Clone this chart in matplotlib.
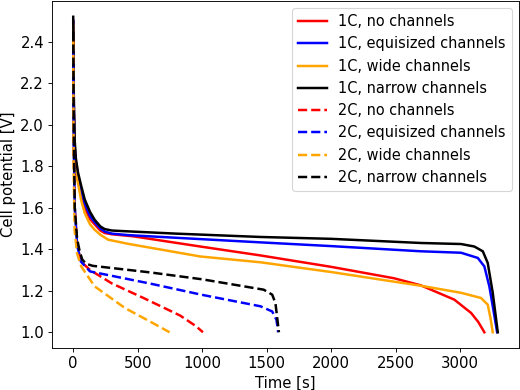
import matplotlib
matplotlib.use("Agg")
import matplotlib.pyplot as plt

# 1C curves
t_1c_none = [0, 5, 11, 20, 37, 60, 89, 130, 166, 210, 244, 300, 467, 985, 1452, 2000, 2488, 2695, 2955, 3085, 3140, 3188]
v_1c_none = [2.50, 2.06, 1.89, 1.80, 1.73, 1.67, 1.60, 1.545, 1.52, 1.49, 1.478, 1.472, 1.462, 1.413, 1.37, 1.315, 1.26, 1.226, 1.157, 1.093, 1.05, 1.0]

t_1c_equi = [0, 5, 11, 20, 37, 60, 89, 130, 166, 210, 244, 300, 425, 800, 1452, 2000, 2696, 3007, 3137, 3188, 3227, 3260, 3287]
v_1c_equi = [2.50, 2.08, 1.90, 1.82, 1.75, 1.69, 1.62, 1.56, 1.53, 1.50, 1.485, 1.475, 1.468, 1.455, 1.433, 1.415, 1.39, 1.383, 1.358, 1.317, 1.22, 1.10, 1.0]

t_1c_wide = [0, 5, 11, 20, 37, 60, 89, 130, 166, 210, 270, 425, 985, 1452, 2000, 2695, 3007, 3162, 3214, 3235, 3253]
v_1c_wide = [2.48, 2.00, 1.84, 1.77, 1.718, 1.64, 1.574, 1.52, 1.494, 1.47, 1.446, 1.426, 1.365, 1.337, 1.29, 1.224, 1.19, 1.165, 1.133, 1.07, 1.0]

t_1c_narrow = [0, 5, 11, 20, 37, 60, 89, 130, 166, 210, 244, 300, 425, 800, 1452, 2000, 2696, 3007, 3110, 3176, 3214, 3253, 3292]
v_1c_narrow = [2.52, 2.10, 1.93, 1.84, 1.77, 1.71, 1.64, 1.58, 1.542, 1.51, 1.497, 1.49, 1.486, 1.475, 1.459, 1.45, 1.43, 1.425, 1.413, 1.39, 1.334, 1.19, 1.0]

# 2C curves
t_2c_none = [0, 4, 12, 30, 60, 130, 300, 545, 830, 950, 1006]
v_2c_none = [2.40, 1.90, 1.60, 1.42, 1.34, 1.30, 1.235, 1.165, 1.08, 1.03, 1.0]

t_2c_equi = [0, 4, 12, 30, 60, 130, 600, 1000, 1452, 1543, 1576, 1589]
v_2c_equi = [2.37, 1.90, 1.60, 1.42, 1.34, 1.293, 1.234, 1.18, 1.125, 1.10, 1.06, 1.0]

t_2c_wide = [0, 3, 11, 30, 62, 166, 400, 600, 747]
v_2c_wide = [2.40, 1.80, 1.49, 1.38, 1.317, 1.221, 1.117, 1.05, 1.0]

t_2c_narrow = [0, 5, 12, 30, 50, 70, 100, 150, 600, 1000, 1477, 1543, 1568, 1595]
v_2c_narrow = [2.45, 1.90, 1.60, 1.45, 1.39, 1.35, 1.33, 1.32, 1.288, 1.255, 1.205, 1.181, 1.14, 1.0]

labels = ["1C, no channels", "1C, equisized channels", "1C, wide channels", "1C, narrow channels",
          "2C, no channels", "2C, equisized channels", "2C, wide channels", "2C, narrow channels"]
colors = ["red", "blue", "orange", "black"]

series = [(t_1c_none, v_1c_none), (t_1c_equi, v_1c_equi), (t_1c_wide, v_1c_wide), (t_1c_narrow, v_1c_narrow),
          (t_2c_none, v_2c_none), (t_2c_equi, v_2c_equi), (t_2c_wide, v_2c_wide), (t_2c_narrow, v_2c_narrow)]

fig = plt.figure(figsize=(6.4, 4.8), dpi=81.25)
ax = fig.add_axes([52/520, 1-348/390, 467/520, 347/390])
for i, ((t, v), lab) in enumerate(zip(series, labels)):
    ls = "-" if i < 4 else "--"
    ax.plot(t, v, color=colors[i % 4], linestyle=ls, linewidth=2.2, label=lab)

ax.set_xlabel("Time [s]", fontsize=13.2)
ax.set_ylabel("Cell potential [V]", fontsize=13.2)
ax.tick_params(labelsize=13.2)
ax.set_xticks([0, 500, 1000, 1500, 2000, 2500, 3000])
ax.set_yticks([1.0, 1.2, 1.4, 1.6, 1.8, 2.0, 2.2, 2.4])
ax.legend(loc="upper right", fontsize=12.9)
fig.savefig("out.png", dpi=81.25)
